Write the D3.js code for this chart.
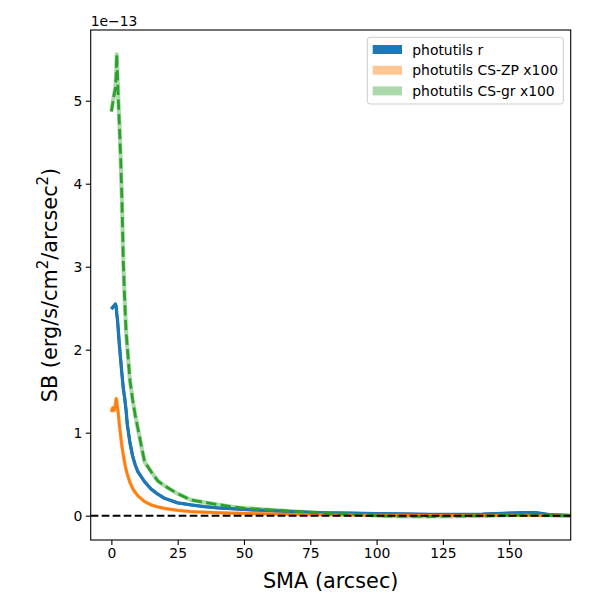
<!DOCTYPE html>
<html>
<head>
<meta charset="utf-8">
<script src="https://cdn.jsdelivr.net/npm/d3@7"></script>
<style>
  body { margin: 0; background: #fff; }
  svg text { font-family: "DejaVu Sans", sans-serif; fill: #000; }
</style>
</head>
<body>
<div id="chart"></div>
<script>
// SB profiles, values in units of 1e-13 erg/s/cm^2/arcsec^2
const sma = [0, 0.5, 1.0, 1.5, 1.8, 2.0, 2.3, 2.6, 3.0, 3.5, 4.0, 4.5, 5.0, 5.5, 6.0, 7.0, 8.0, 9.0, 10.0,
  12.5, 15, 17.5, 20, 25, 30, 35, 40, 45, 50, 60, 70, 80, 90, 100, 110, 120, 130, 140, 150, 155, 160, 165, 170, 173.2];

const sbR = [2.49, 2.51, 2.53, 2.55, 2.52, 2.44, 2.36, 2.24, 2.06, 1.88, 1.70, 1.53, 1.42, 1.28, 1.10, 0.88, 0.72, 0.61, 0.53,
  0.41, 0.32, 0.26, 0.21, 0.155, 0.13, 0.11, 0.095, 0.085, 0.075, 0.06, 0.045, 0.035, 0.03, 0.025, 0.02, 0.015, 0.015, 0.018, 0.03, 0.036, 0.036, 0.012, 0.005, 0.0];

const sbZP = [1.25, 1.30, 1.27, 1.33, 1.41, 1.38, 1.31, 1.23, 1.10, 0.96, 0.83, 0.73, 0.64, 0.56, 0.50, 0.40, 0.33, 0.28, 0.24,
  0.17, 0.13, 0.105, 0.088, 0.065, 0.05, 0.042, 0.036, 0.031, 0.028, 0.021, 0.016, 0.012, 0.01, 0.008, 0.006, 0.005, 0.005, 0.005, 0.006, 0.006, 0.005, 0.003, 0.001, 0.0];

const sbGR = [4.87, 4.97, 5.07, 5.15, 5.30, 5.56, 5.30, 5.02, 4.73, 4.30, 3.78, 3.05, 2.62, 2.24, 2.03, 1.63, 1.40, 1.21, 1.05,
  0.65, 0.53, 0.42, 0.36, 0.265, 0.19, 0.16, 0.135, 0.11, 0.09, 0.07, 0.05, 0.03, 0.02, 0.0, -0.008, -0.01, -0.005, -0.002, 0.005, 0.01, 0.01, 0.005, 0.0, 0.0];

const seriesNames = ["photutils r", "photutils CS-ZP x100", "photutils CS-gr x100"];
const xTicks = [0, 25, 50, 75, 100, 125, 150];
const yTicks = [0, 1, 2, 3, 4, 5];

const W = 600, H = 600;
const box = { left: 90.7, right: 570.7, top: 30, bottom: 540 };

const series = [
  { name: seriesNames[0], values: sbR,  color: "#1f77b4", bandOpacity: 1.0, bandWidth: 3.3, dash: null },
  { name: seriesNames[1], values: sbZP, color: "#ff7f0e", bandOpacity: 0.45, bandWidth: 3.6, dash: null },
  { name: seriesNames[2], values: sbGR, color: "#2ca02c", bandOpacity: 0.4, bandWidth: 4.2, dash: "10.3,4.4" }
];

const x = d3.scaleLinear().domain([-7.8, 173.2]).range([box.left, box.right]);
const y = d3.scaleLinear().domain([-0.293, 5.852]).range([box.bottom, box.top]);

const svg = d3.select("#chart").append("svg")
  .attr("width", W).attr("height", H);

svg.append("defs").append("clipPath").attr("id", "clip")
  .append("rect")
  .attr("x", box.left).attr("y", box.top)
  .attr("width", box.right - box.left).attr("height", box.bottom - box.top);

const plot = svg.append("g").attr("clip-path", "url(#clip)");

const line = d3.line()
  .x((d, i) => x(sma[i]))
  .y(d => y(d));

// light bands under each profile
series.forEach(s => {
  plot.append("path")
    .attr("d", line(s.values))
    .attr("fill", "none")
    .attr("stroke", s.color)
    .attr("stroke-opacity", s.bandOpacity)
    .attr("stroke-width", s.bandWidth)
    .attr("stroke-linejoin", "round");
});

series.forEach(s => {
  plot.append("path")
    .attr("d", line(s.values))
    .attr("fill", "none")
    .attr("stroke", s.color)
    .attr("stroke-width", 2.78)
    .attr("stroke-dasharray", s.dash)
    .attr("stroke-linejoin", "round");
});

// zero line
plot.append("line")
  .attr("x1", box.left).attr("x2", box.right)
  .attr("y1", y(0)).attr("y2", y(0))
  .attr("stroke", "#000")
  .attr("stroke-width", 2.08)
  .attr("stroke-dasharray", "7.7,3.3");

// axes
const xAxis = svg.append("g")
  .attr("transform", "translate(0," + box.bottom + ")")
  .call(d3.axisBottom(x).tickValues(xTicks).tickSize(4.9).tickPadding(3.5).tickFormat(d3.format("d")));
const yAxis = svg.append("g")
  .attr("transform", "translate(" + box.left + ",0)")
  .call(d3.axisLeft(y).tickValues(yTicks).tickSize(4.9).tickPadding(3.5).tickFormat(d3.format("d")));

[xAxis, yAxis].forEach(a => {
  a.select(".domain").remove();
  a.selectAll(".tick line").attr("stroke", "#000").attr("stroke-width", 1.1);
  a.selectAll(".tick text")
    .style("font-family", "DejaVu Sans, sans-serif")
    .style("font-size", "13.9px")
    .attr("fill", "#000");
});

svg.append("rect")
  .attr("x", box.left).attr("y", box.top)
  .attr("width", box.right - box.left).attr("height", box.bottom - box.top)
  .attr("fill", "none").attr("stroke", "#000").attr("stroke-width", 1.1);

// offset text
svg.append("text")
  .attr("x", box.left).attr("y", 25.5)
  .style("font-size", "13.9px")
  .text("1e\u221213");

// axis labels
svg.append("text")
  .attr("x", (box.left + box.right) / 2).attr("y", 588)
  .attr("text-anchor", "middle")
  .style("font-size", "20.8px")
  .text("SMA (arcsec)");

const yl = svg.append("text")
  .attr("transform", "translate(57," + ((box.top + box.bottom) / 2) + ") rotate(-90)")
  .attr("text-anchor", "middle")
  .style("font-size", "20.8px");
yl.append("tspan").text("SB (erg/s/cm");
yl.append("tspan").attr("dy", -9).style("font-size", "15px").text("2");
yl.append("tspan").attr("dy", 9).text("/arcsec");
yl.append("tspan").attr("dy", -9).style("font-size", "15px").text("2");
yl.append("tspan").attr("dy", 9).text(")");

// legend
const lg = svg.append("g");
lg.append("rect")
  .attr("x", 367.3).attr("y", 37.3)
  .attr("width", 196).attr("height", 66.7)
  .attr("rx", 2.8)
  .attr("fill", "#fff").attr("fill-opacity", 0.8)
  .attr("stroke", "#cccccc").attr("stroke-width", 1);

const rows = lg.selectAll("g.row").data(series).enter().append("g")
  .attr("class", "row")
  .attr("transform", (d, i) => "translate(0," + (49.5 + i * 20.7) + ")");
rows.append("rect")
  .attr("x", 372.7).attr("y", -4.5)
  .attr("width", 29.3).attr("height", 9)
  .attr("fill", d => d.color)
  .attr("fill-opacity", d => d.bandOpacity);
rows.append("text")
  .attr("x", 412.3).attr("y", 5)
  .style("font-size", "13.9px")
  .text(d => d.name);
</script>
</body>
</html>
